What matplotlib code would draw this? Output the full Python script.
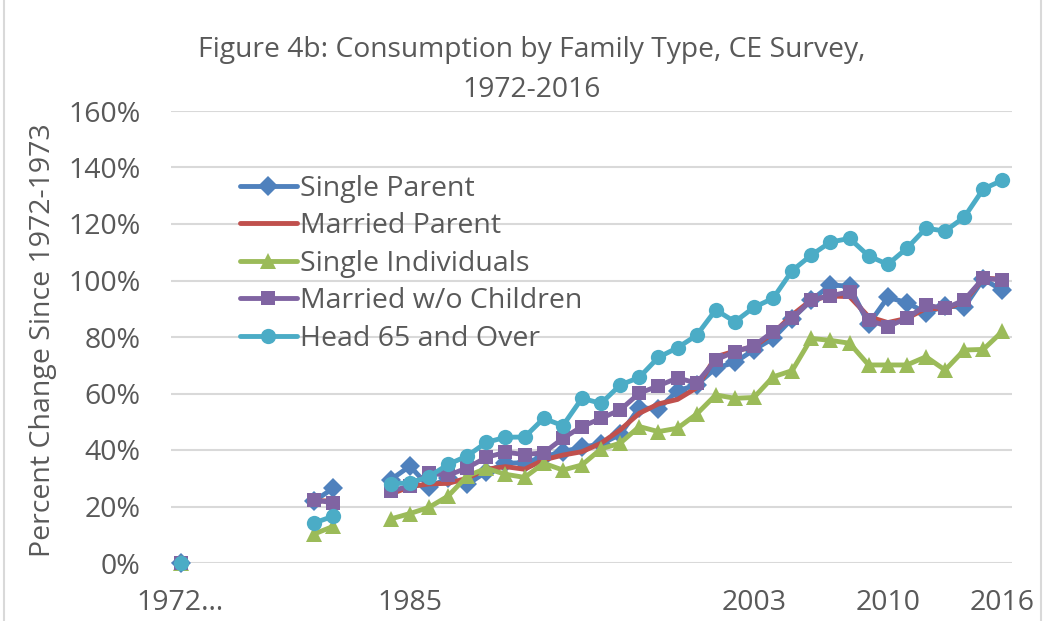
import numpy as np
import matplotlib
matplotlib.use("Agg")
import matplotlib.pyplot as plt
from matplotlib.patches import Rectangle

nan = np.nan

categories = ["1972-1973"] + [str(y) for y in range(1974, 2017)]
tick_labels = {"1972-1973": "1972…", "1985": "1985", "2003": "2003", "2010": "2010", "2016": "2016"}

# values in percent; NaN = no data (1974-1979, 1982-1983)
gap6 = [nan] * 6
gap2 = [nan] * 2

single_parent = [0.0] + gap6 + [22.0, 26.5] + gap2 + [
    29.5, 34.3, 27.0, 30.0, 27.8, 32.3, 35.3, 35.5, 37.6, 39.4,
    41.0, 42.1, 45.5, 55.0, 54.5, 61.0, 63.0, 69.0, 71.0, 75.5,
    79.5, 86.5, 93.0, 98.4, 98.0, 84.5, 94.0, 92.2, 88.5, 91.0,
    90.5, 100.5, 96.5]

married_parent = [0.0] + gap6 + [22.0, 22.0] + gap2 + [
    24.4, 27.0, 28.0, 28.2, 30.0, 33.2, 34.1, 33.2, 36.5, 38.2,
    39.4, 42.4, 47.1, 53.0, 56.3, 57.9, 62.0, 73.0, 75.0, 76.6,
    81.3, 87.8, 93.1, 94.5, 94.3, 87.2, 85.1, 86.6, 90.1, 90.0,
    92.5, 100.8, 100.5]

single_individuals = [0.0] + gap6 + [10.3, 13.0] + gap2 + [
    15.6, 17.5, 19.7, 23.7, 30.8, 33.5, 31.4, 30.3, 35.3, 32.9,
    34.7, 40.4, 42.4, 48.3, 46.5, 47.7, 52.7, 59.5, 58.3, 58.6,
    65.9, 68.1, 79.5, 78.8, 77.8, 70.1, 70.1, 70.1, 73.0, 68.3,
    75.4, 75.6, 82.0]

married_no_children = [0.0] + gap6 + [22.3, 21.3] + gap2 + [
    25.4, 27.3, 31.8, 31.0, 33.7, 37.4, 39.2, 38.4, 39.0, 44.1,
    48.3, 51.2, 54.2, 60.1, 62.7, 65.5, 63.7, 71.9, 74.8, 76.9,
    81.9, 86.6, 93.1, 94.6, 96.0, 86.0, 83.7, 86.6, 91.3, 90.1,
    93.1, 100.8, 100.2]

head_65_over = [0.0] + gap6 + [14.2, 16.6] + gap2 + [
    28.0, 28.4, 30.6, 34.9, 37.9, 42.7, 44.5, 44.6, 51.2, 48.6,
    58.3, 56.5, 63.0, 65.7, 72.8, 76.2, 80.6, 89.6, 85.4, 90.5,
    93.7, 103.5, 109.0, 113.6, 114.9, 108.7, 105.7, 111.4, 118.5, 117.5,
    122.4, 132.4, 135.5]

series = [
    ("Single Parent", single_parent, "#4F81BD", "D", 10),
    ("Married Parent", married_parent, "#C0504D", None, 0),
    ("Single Individuals", single_individuals, "#9BBB59", "^", 11),
    ("Married w/o Children", married_no_children, "#8064A2", "s", 10),
    ("Head 65 and Over", head_65_over, "#4BACC6", "o", 11),
]

FONT = ["Open Sans", "DejaVu Sans"]
plt.rcParams["font.family"] = FONT
TXT = "#595959"
FS = 20.5

W, H = 1045, 621
fig = plt.figure(figsize=(W / 100, H / 100), dpi=100)
ax = fig.add_axes([171 / W, 1 - 563 / H, (1012 - 171) / W, (563 - 111) / H])

x = np.arange(len(categories))
for name, vals, col, mk, ms in series:
    v = np.array(vals, dtype=float) / 100.0
    ax.plot(x, v, color=col, lw=3.5, marker=mk if mk else None, ms=ms,
            markeredgewidth=0, label=name, solid_capstyle="round",
            solid_joinstyle="round", clip_on=False)

ax.set_xlim(-0.5, len(categories) - 0.5)
ax.set_ylim(0, 1.6)
yt = np.arange(0, 1.61, 0.2)
ax.set_yticks(yt)
ax.set_yticklabels([f"{int(round(t*100))}%" for t in yt])
tpos = [categories.index(k) for k in tick_labels]
ax.set_xticks(tpos)
ax.set_xticklabels(list(tick_labels.values()))
ax.tick_params(axis="y", length=0, pad=22, labelsize=FS, labelcolor=TXT)
ax.tick_params(axis="x", length=0, pad=19, labelsize=FS, labelcolor=TXT)
ax.grid(axis="y", color="#D9D9D9", lw=1.5)
ax.set_axisbelow(True)
for s in ax.spines.values():
    s.set_visible(False)

fig.text(532 / W, 1 - 50 / H, "Figure 4b: Consumption by Family Type, CE Survey,",
         ha="center", va="center", fontsize=20.3, color=TXT)
fig.text(532 / W, 1 - 90 / H, "1972-2016", ha="center", va="center",
         fontsize=20.3, color=TXT)
fig.text(43 / W, 1 - 340 / H, "Percent Change Since 1972-1973", rotation=90,
         ha="center", va="center", fontsize=FS, color=TXT)

leg = ax.legend(loc="upper left", bbox_to_anchor=(240 / W, 1 - 175 / H),
                bbox_transform=fig.transFigure, frameon=False, fontsize=FS,
                handlelength=2.0, handletextpad=0.1, labelspacing=0.33,
                numpoints=1, borderaxespad=0, borderpad=0)
for t in leg.get_texts():
    t.set_color(TXT)

fig.patches.append(Rectangle((4 / W, -0.01), (W - 8) / W, 1.2, transform=fig.transFigure,
                             fill=False, edgecolor="#D9D9D9", lw=1.5))

fig.savefig("out.png", dpi=100, facecolor="white")
